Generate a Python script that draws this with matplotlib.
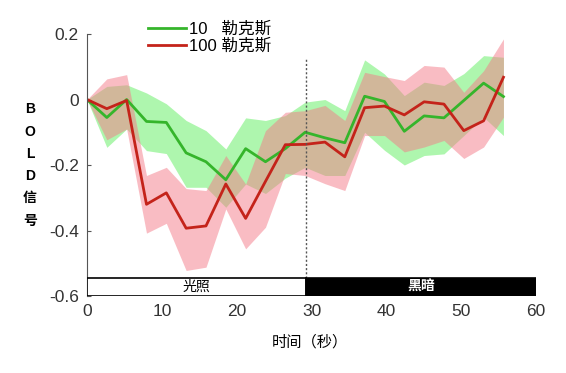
import numpy as np
import matplotlib
matplotlib.use('Agg')
from matplotlib import pyplot as plt
from matplotlib.patches import Rectangle

plt.rcParams['font.family'] = ['Liberation Sans', 'Noto Sans CJK SC', 'DejaVu Sans']
plt.rcParams['axes.unicode_minus'] = False

# ------------------ 数据 ------------------
t = [0, 2.65, 5.3, 7.95, 10.6, 13.25, 15.9, 18.55, 21.2, 23.85, 26.5,
     29.15, 31.8, 34.45, 37.1, 39.75, 42.4, 45.05, 47.7, 50.35, 53.0, 55.65]

green = [0, -0.055, 0.0, -0.067, -0.07, -0.163, -0.19, -0.245, -0.15, -0.19, -0.15,
         -0.10, -0.117, -0.132, 0.01, -0.006, -0.097, -0.05, -0.056, -0.003, 0.05, 0.009]
green_hi = [0, 0.04, 0.045, 0.02, -0.013, -0.064, -0.095, -0.151, -0.056, -0.064, -0.049,
            -0.008, 0.0, -0.034, 0.121, 0.078, 0.012, 0.053, 0.043, 0.079, 0.134, 0.129]
green_lo = [0, -0.146, -0.09, -0.156, -0.165, -0.268, -0.268, -0.329, -0.258, -0.287, -0.24,
            -0.207, -0.232, -0.232, -0.10, -0.155, -0.2, -0.171, -0.166, -0.11, -0.054, -0.11]

red = [0, -0.028, -0.003, -0.32, -0.285, -0.393, -0.386, -0.258, -0.363, -0.25, -0.138,
       -0.137, -0.13, -0.175, -0.025, -0.02, -0.047, -0.007, -0.014, -0.095, -0.065, 0.068]
red_hi = [0, 0.063, 0.076, -0.232, -0.207, -0.272, -0.278, -0.171, -0.258, -0.095, -0.039,
          -0.034, -0.018, -0.064, 0.083, 0.07, 0.058, 0.104, 0.099, 0.022, 0.088, 0.185]
red_lo = [0, -0.123, -0.09, -0.408, -0.378, -0.522, -0.512, -0.334, -0.456, -0.39, -0.226,
          -0.232, -0.257, -0.278, -0.11, -0.11, -0.16, -0.145, -0.125, -0.18, -0.145, -0.054]

labels = ['10   勒克斯', '100 勒克斯']
phases = ['光照', '黑暗']
switch_t = 29.3

# ------------------ 绘图 ------------------
fig = plt.figure(figsize=(5.66, 3.73), dpi=100)
ax = fig.add_axes([0.1537, 0.2064, 0.7933, 0.7024])

ax.fill_between(t, green_lo, green_hi, color='#6cf06c', alpha=0.55, lw=0)
ax.fill_between(t, red_lo, red_hi, color='#f47a88', alpha=0.5, lw=0)
ax.plot(t, green, color='#35b52b', lw=2, label=labels[0])
ax.plot(t, red, color='#c4231a', lw=2, label=labels[1])

# 光照 / 黑暗 条
bar_lo, bar_hi = -0.6, -0.545
ax.add_patch(Rectangle((0, bar_lo), switch_t, bar_hi - bar_lo, facecolor='white',
                       edgecolor='black', lw=1.2, zorder=3))
ax.add_patch(Rectangle((switch_t, bar_lo), 60 - switch_t, bar_hi - bar_lo, facecolor='black',
                       edgecolor='black', lw=1.2, zorder=3))
ax.text(switch_t / 2, (bar_lo + bar_hi) / 2, phases[0], ha='center', va='center',
        fontsize=10, color='black', zorder=4)
ax.text((switch_t + 60) / 2, (bar_lo + bar_hi) / 2, phases[1], ha='center', va='center',
        fontsize=10, color='white', fontweight='bold', zorder=4)

ax.plot([switch_t, switch_t], [bar_hi, 0.127], color='#555555', lw=1, ls=(0, (1.5, 1.5)))

ax.set_xlim(0, 60)
ax.set_ylim(-0.6, 0.2)
ax.set_xticks([0, 10, 20, 30, 40, 50, 60])
ax.set_yticks([-0.6, -0.4, -0.2, 0, 0.2])
ax.set_yticklabels(['-0.6', '-0.4', '-0.2', '0', '0.2'])
for s in ['top', 'right', 'bottom']:
    ax.spines[s].set_visible(False)
ax.spines['left'].set_color('#555555')
ax.tick_params(axis='y', direction='in', length=3, labelsize=12.5, labelcolor='#333333',
               color='#555555', pad=6)
ax.tick_params(axis='x', length=0, labelsize=12.5, labelcolor='#333333', pad=6)

ax.legend(loc='upper left', bbox_to_anchor=(0.12, 1.075), frameon=False, fontsize=12,
          handlelength=2.3, handletextpad=0.2, labelspacing=0.1, borderaxespad=0)

fig.text(30 / 566, 1 - 165 / 373, '\n'.join(['B', 'O', 'L', 'D', '信', '号']),
         ha='center', va='center', fontsize=10, fontweight='bold', linespacing=1.75)
fig.text(310 / 566, 1 - 342 / 373, '时间（秒）', ha='center', va='center', fontsize=11)

plt.savefig('out.png', dpi=100)
